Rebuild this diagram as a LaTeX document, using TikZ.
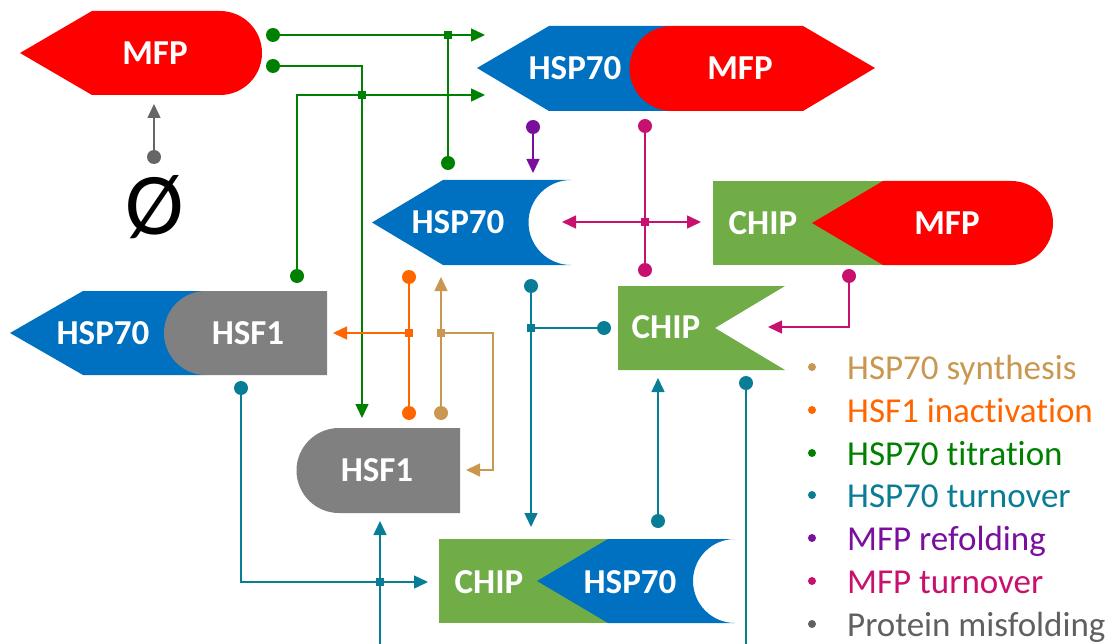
\documentclass[tikz,border=0pt]{standalone}
\usepackage{fontspec}
\setmainfont{Carlito}[Ligatures={NoCommon}]
\usetikzlibrary{arrows.meta}
\definecolor{bred}{HTML}{FF0000}
\definecolor{bblue}{HTML}{0070C0}
\definecolor{bgreen}{HTML}{70AD47}
\definecolor{bgrey}{HTML}{808080}
\definecolor{cgreen}{HTML}{008000}
\definecolor{cpurple}{HTML}{7A0F9E}
\definecolor{cmag}{HTML}{C8106E}
\definecolor{corange}{HTML}{FF6600}
\definecolor{ctan}{HTML}{C9974F}
\definecolor{cteal}{HTML}{0A7D96}
\definecolor{cgreyc}{HTML}{666666}
\definecolor{lgrey}{HTML}{606060}
\begin{document}
\begin{tikzpicture}[x=1pt,y=-1pt,
  lbl/.style={text=white,font=\bfseries\fontsize{35}{35}\selectfont,inner sep=0pt},
  conn/.style={line width=1.5pt},
  arr/.style={conn,-{Triangle[length=14pt,width=13pt]}},
  dotn/.style={circle,minimum size=14pt,inner sep=0pt,fill=#1},
  sqn/.style={rectangle,minimum size=8pt,inner sep=0pt,fill=#1},
  legtxt/.style={anchor=base west,inner sep=0pt,font=\fontsize{35}{35}\selectfont,text=#1},
  legdot/.style={circle,minimum size=8pt,inner sep=0pt,fill=#1}
]
\useasboundingbox (0,0) rectangle (1115,644);

% ---------- shapes ----------
% MFP (top left)
\fill[bred] (20,53) -- (92,11) -- (220,11) arc[start angle=90,end angle=-90,radius=42pt] -- (92,95) -- cycle;
\node[lbl] (mfp) at (155,53) {MFP};
% HSP70-MFP complex
\fill[bblue] (477,68) -- (549,26) -- (672,26) -- (672,111) -- (549,111) -- cycle;
\fill[bred] (672,26) -- (803,26) -- (875,68) -- (803,111) -- (672,111) arc[start angle=-90,end angle=-270,radius=42.5pt] -- cycle;
\node[lbl] (cxh) at (575,68) {HSP70};
\node[lbl] (cxm) at (740,68) {MFP};
% HSP70 (middle)
\fill[bblue] (372,222.5) -- (443,180) -- (571,180) arc[start angle=90,end angle=270,radius=42.5pt] -- (443,265) -- cycle;
\node[lbl] (hsp) at (458,222) {HSP70};
% CHIP-MFP
\fill[bgreen] (713,181) rectangle (883,265);
\fill[bred] (812,223) -- (883,181) -- (1011,181) arc[start angle=90,end angle=-90,radius=42pt] -- (883,265) -- cycle;
\node[lbl] (cmc) at (763,223) {CHIP};
\node[lbl] (cmm) at (947,223) {MFP};
% CHIP
\fill[bgreen] (618,286) -- (785,286) -- (715,328) -- (785,370) -- (618,370) -- cycle;
\node[lbl] (chip) at (666,327) {CHIP};
% HSP70-HSF1
\fill[bblue] (10,333) -- (83,291) -- (206,291) -- (206,375) -- (83,375) -- cycle;
\fill[bgrey] (206,291) -- (327,291) -- (327,375) -- (206,375) arc[start angle=-90,end angle=-270,radius=42pt] -- cycle;
\node[lbl] (hhh) at (103,333) {HSP70};
\node[lbl] (hhf) at (248,333) {HSF1};
% HSF1
\fill[bgrey] (339,428) -- (460,428) -- (460,513) -- (339,513) arc[start angle=-90,end angle=-270,radius=42.5pt] -- cycle;
\node[lbl] (hsf) at (377,470) {HSF1};
% CHIP-HSP70
\fill[bgreen] (439,539) rectangle (608,623);
\fill[bblue] (537,581) -- (608,539) -- (735,539) arc[start angle=90,end angle=270,radius=42pt] -- (608,623) -- cycle;
\node[lbl] (chc) at (489,582) {CHIP};
\node[lbl] (chh) at (630,582) {HSP70};
% empty set
\node[anchor=base,inner sep=0pt,font=\fontsize{88}{88}\selectfont] (empty) at (155,234) {Ø};

% ---------- coordinates ----------
\coordinate (gA) at (273,35);  \coordinate (gB) at (448,163);
\coordinate (gS1) at (448,35); \coordinate (gT1) at (485,35);
\coordinate (gC) at (273,66);  \coordinate (gD) at (297,276);
\coordinate (gS2) at (362,95); \coordinate (gT2) at (485,95);
\coordinate (gT3) at (362,418);
\coordinate (pA) at (533,127); \coordinate (pT) at (533,173);
\coordinate (mA) at (645,126); \coordinate (mB) at (645,270);
\coordinate (mS) at (645,222); \coordinate (mT1) at (562,222);
\coordinate (mT2) at (701,222);
\coordinate (mC) at (849,276); \coordinate (mT3) at (768,327);
\coordinate (oA) at (409,277); \coordinate (oB) at (409,413);
\coordinate (oS) at (409,333); \coordinate (oT) at (333,333);
\coordinate (tA) at (441,413); \coordinate (tS) at (441,333);
\coordinate (tT1) at (441,277); \coordinate (tK) at (493,333);
\coordinate (tT2) at (466,470);
\coordinate (cA) at (531,286); \coordinate (cS1) at (531,328);
\coordinate (cB) at (604,328); \coordinate (cT1) at (531,527);
\coordinate (cC) at (658,521); \coordinate (cT2) at (658,378);
\coordinate (cD) at (241,388); \coordinate (cS2) at (380,582);
\coordinate (cT3) at (428,582); \coordinate (cT4) at (380,521);
\coordinate (cE) at (380,644);
\coordinate (cF) at (746,383); \coordinate (cG) at (746,644);
\coordinate (xA) at (154,157); \coordinate (xT) at (154,104);

% ---------- connectors ----------
\begin{scope}[cgreen]
\draw[arr] (gA) -- (gT1);
\draw[conn] (gB) -- (gS1);
\draw[conn] (gC) -| (gS2);
\draw[arr] (gD) |- (gT2);
\draw[arr] (gS2) -- (gT3);
\end{scope}
\draw[arr,cpurple] (pA) -- (pT);
\begin{scope}[cmag]
\draw[conn] (mA) -- (mB);
\draw[arr] (mS) -- (mT1);
\draw[arr] (mS) -- (mT2);
\draw[arr] (mC) |- (mT3);
\end{scope}
\draw[conn,corange] (oA) -- (oB);
\draw[arr,corange] (oS) -- (oT);
\draw[arr,ctan] (tA) -- (tT1);
\draw[arr,ctan] (tS) -- (tK) |- (tT2);
\begin{scope}[cteal]
\draw[arr] (cA) -- (cT1);
\draw[conn] (cS1) -- (cB);
\draw[arr] (cC) -- (cT2);
\draw[arr] (cD) |- (cT3);
\draw[arr] (cS2) -- (cT4);
\draw[conn] (cS2) -- (cE);
\draw[conn] (cF) -- (cG);
\end{scope}
\draw[arr,cgreyc] (xA) -- (xT);

% dots and squares
\foreach \c in {gA,gB,gC,gD} \node[dotn=cgreen] at (\c) {};
\foreach \c in {gS1,gS2} \node[sqn=cgreen] at (\c) {};
\node[dotn=cpurple] at (pA) {};
\foreach \c in {mA,mB,mC} \node[dotn=cmag] at (\c) {};
\node[sqn=cmag] at (mS) {};
\foreach \c in {oA,oB} \node[dotn=corange] at (\c) {};
\node[sqn=corange] at (oS) {};
\node[dotn=ctan] at (tA) {};
\node[sqn=ctan] at (tS) {};
\foreach \c in {cA,cB,cC,cD,cF} \node[dotn=cteal] at (\c) {};
\foreach \c in {cS1,cS2} \node[sqn=cteal] at (\c) {};
\node[dotn=cgreyc] at (xA) {};

% ---------- legend ----------
\node[legdot=ctan] (l1d) at (812,367) {};
\node[legtxt=ctan] (l1) at (847,379) {HSP70 synthesis};
\node[legdot=corange] (l2d) at (812,410) {};
\node[legtxt=corange] (l2) at (847,422) {HSF1 inactivation};
\node[legdot=cgreen] (l3d) at (812,453) {};
\node[legtxt=cgreen] (l3) at (847,465) {HSP70 titration};
\node[legdot=cteal] (l4d) at (812,495) {};
\node[legtxt=cteal] (l4) at (847,507) {HSP70 turnover};
\node[legdot=cpurple] (l5d) at (812,538) {};
\node[legtxt=cpurple] (l5) at (847,550) {MFP refolding};
\node[legdot=cmag] (l6d) at (812,581) {};
\node[legtxt=cmag] (l6) at (847,593) {MFP turnover};
\node[legdot=lgrey] (l7d) at (812,624) {};
\node[legtxt=lgrey] (l7) at (847,636) {Protein misfolding};
\end{tikzpicture}
\end{document}
